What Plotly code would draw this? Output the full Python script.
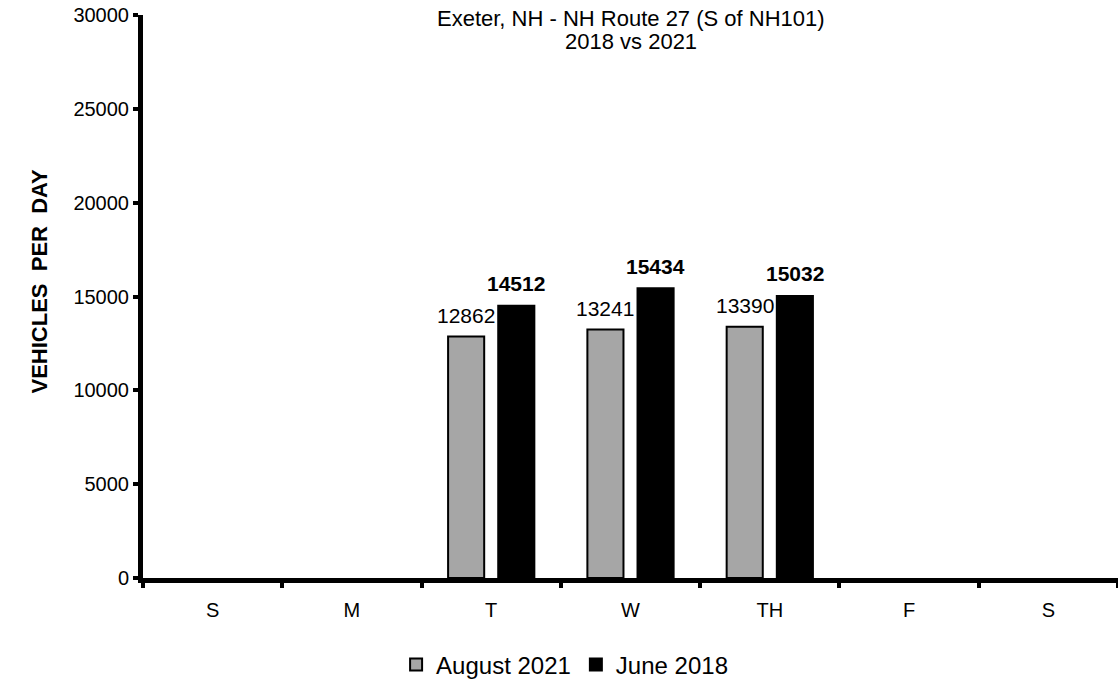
import plotly.graph_objects as go

# Weekday categories (two Sundays/Saturdays share the letter "S")
days = ["S", "M", "T", "W", "TH", "F", "S"]
aug_2021 = [None, None, 12862, 13241, 13390, None, None]
jun_2018 = [None, None, 14512, 15434, 15032, None, None]
y_ticks = [0, 5000, 10000, 15000, 20000, 25000, 30000]
title_lines = ["Exeter, NH - NH Route 27 (S of NH101)", "2018 vs 2021"]

FONT = "Liberation Sans, Arial, sans-serif"
BARGAP = 0.28
x = list(range(len(days)))

fig = go.Figure()
fig.add_trace(go.Bar(
    x=x, y=aug_2021, name="August 2021",
    marker=dict(color="#A6A6A6", line=dict(color="black", width=2)),
))
fig.add_trace(go.Bar(
    x=x, y=jun_2018, name="June 2018",
    marker=dict(color="black", line=dict(color="black", width=2)),
))

# value labels above each bar
slot = (1 - BARGAP) / 2
for xi, v in zip(x, aug_2021):
    if v is not None:
        fig.add_annotation(x=xi - slot / 2, y=v, text=str(v), showarrow=False,
                           yanchor="middle", yshift=21,
                           font=dict(family=FONT, size=21, color="black"))
for xi, v in zip(x, jun_2018):
    if v is not None:
        fig.add_annotation(x=xi + slot / 2, y=v, text=f"<b>{v}</b>", showarrow=False,
                           yanchor="middle", yshift=22,
                           font=dict(family=FONT, size=21, color="black"))

# chart title, two lines centred over the plot
for line, shift in zip(title_lines, [-3, -26]):
    fig.add_annotation(
        text=line, xref="paper", yref="paper", x=0.5, y=1,
        xanchor="center", yanchor="middle", yshift=shift, showarrow=False,
        font=dict(family=FONT, size=22, color="black"),
    )

# vertical axis title
fig.add_annotation(
    text="<b>VEHICLES  PER  DAY</b>",
    xref="paper", yref="paper", x=0, y=0.5, xanchor="center", yanchor="middle",
    xshift=-104, yshift=15, textangle=-90, showarrow=False,
    font=dict(family=FONT, size=22, color="black"),
)

fig.update_layout(
    width=1118, height=684,
    margin=dict(l=143, r=0, t=15, b=106),
    paper_bgcolor="white", plot_bgcolor="white",
    font=dict(family=FONT, size=20, color="black"),
    barmode="group", bargap=BARGAP, bargroupgap=0.28,
    showlegend=True,
    legend=dict(
        orientation="h", x=0.505, xref="container", xanchor="center",
        y=0.028, yref="container", yanchor="middle",
        font=dict(family=FONT, size=24, color="black"),
        itemwidth=30,
    ),
    xaxis=dict(
        range=[-0.5, len(days) - 0.5],
        tickvals=x, ticktext=days, ticks="",
        showline=True, linecolor="black", linewidth=5,
        showgrid=False, zeroline=False, ticklabelstandoff=10,
        minor=dict(ticks="outside", tick0=0.5, dtick=1, ticklen=5,
                   tickwidth=4, tickcolor="black", showgrid=False),
        tickfont=dict(family=FONT, size=20),
    ),
    yaxis=dict(
        range=[0, 30000], tickvals=y_ticks, tickformat="d",
        ticks="outside", ticklen=5, tickwidth=4, tickcolor="black",
        showline=True, linecolor="black", linewidth=5,
        showgrid=False, zeroline=False,
        tickfont=dict(family=FONT, size=20),
    ),
)

fig.write_html("out.html")
